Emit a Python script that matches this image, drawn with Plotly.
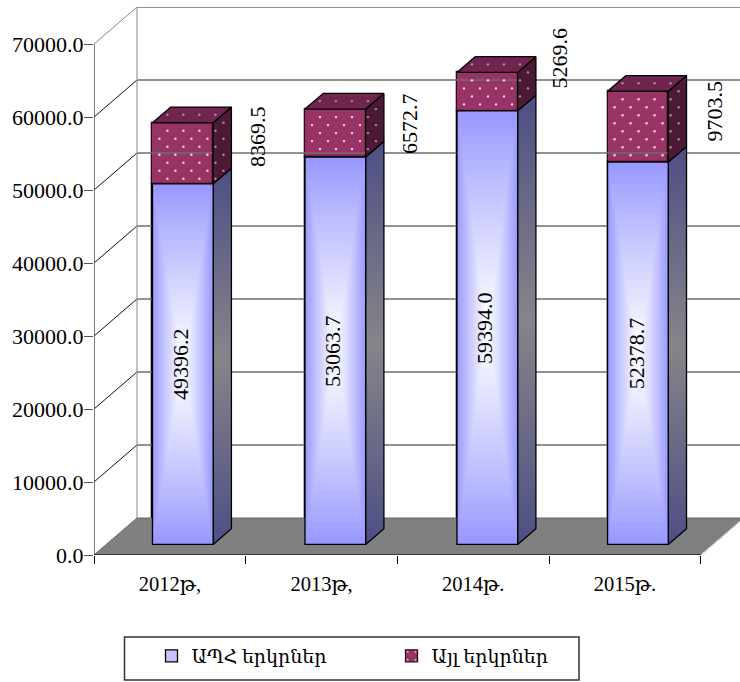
import plotly.graph_objects as go

categories = ["2012թ,", "2013թ,", "2014թ.", "2015թ."]
series_a_name = "ԱՊՀ երկրներ"
series_b_name = "Այլ երկրներ"
series_a = [49396.2, 53063.7, 59394.0, 52378.7]
series_b = [8369.5, 6572.7, 5269.6, 9703.5]
y_ticks = [0, 10000, 20000, 30000, 40000, 50000, 60000, 70000]

# ---- pixel layout of the pseudo-3D box
W, H = 740, 682
PX0, PY0 = 94, 555          # origin of the front plane
CAT_PX = 151.7              # px per category
VAL_PX = 73.0 / 10000       # px per value unit
TOP_PX = 7
DEPTH_X = 43 / CAT_PX       # floor depth, data units
DEPTH_Y = 37 / VAL_PX
FRONT_T, BACK_T = 0.285, 0.71
BAR_W = 0.4
BAR_NUDGE_PX = [0.7, 1.5, 1.8, 0.7]
N_CAT = len(categories)
FONT = "Liberation Serif, DejaVu Serif, serif"
FS = 22


def proj(x, v, t):
    return x + t * DEPTH_X, v + t * DEPTH_Y


def poly(points, **kw):
    xs, ys = zip(*[proj(*p) for p in points])
    return go.Scatter(x=list(xs) + [xs[0]], y=list(ys) + [ys[0]], mode="lines",
                      fill="toself", hoverinfo="skip", showlegend=False, **kw)


def seg(p, q, color, width):
    a, b = proj(*p), proj(*q)
    return go.Scatter(x=[a[0], b[0]], y=[a[1], b[1]], mode="lines", hoverinfo="skip",
                      showlegend=False, line=dict(color=color, width=width), cliponaxis=False)


def data_x(px):
    return (px - PX0) / CAT_PX


def data_y(py):
    return (PY0 - py) / VAL_PX


fig = go.Figure()

# floor
fig.add_trace(poly([(0, 0, 0), (N_CAT, 0, 0), (N_CAT, 0, 1), (0, 0, 1)],
                   fillcolor="#808080", line=dict(color="#666666", width=1)))

# walls and grid
top = y_ticks[-1]
for v in y_ticks[1:]:
    fig.add_trace(seg((0, v, 1), (N_CAT + 1, v, 1), "#6e6e6e", 1.3))
    fig.add_trace(seg((0, v, 0), (0, v, 1), "#111111" if v < top else "#888888", 1))
fig.add_trace(seg((0, 0, 1), (0, top, 1), "#999999", 1.2))

# axis lines
fig.add_trace(seg((0, 0, 0), (0, top, 0), "#555555", 1.5))
fig.add_trace(seg((0, 0, 0), (N_CAT, 0, 0), "#000000", 1.2))
fig.add_trace(seg((N_CAT, 0, 0), (N_CAT, 0, 1), "#e8e8e8", 1))

centers = [i + 0.5 + n / CAT_PX for i, n in enumerate(BAR_NUDGE_PX)]
front_x = [c + FRONT_T * DEPTH_X for c in centers]
base_a = [FRONT_T * DEPTH_Y] * N_CAT
base_b = [FRONT_T * DEPTH_Y + a for a in series_a]

PLUM = "#993366"
DOT = "#efd9e6"
PLUM_SIDE = "#4d1a36"
PLUM_TOP = "#6f2550"
DOT_DIM = "#ab8aa0"
OUT = 1.3

# front faces: real bars
fig.add_trace(go.Bar(x=front_x, y=series_a, base=base_a, width=BAR_W, name=series_a_name,
                     marker=dict(color="#c4c4ff", line=dict(color="#000000", width=OUT))))
fig.add_trace(go.Bar(x=front_x, y=series_b, base=base_b, width=BAR_W, name=series_b_name, showlegend=False,
                     marker=dict(color=PLUM, line=dict(color="#2a0a1c", width=OUT))))
# legend entry for the dotted series
fig.add_trace(go.Bar(x=[None], y=[None], name=series_b_name,
                     marker=dict(color=PLUM, line=dict(color="#2a0a1c", width=OUT),
                                 pattern=dict(shape=".", size=12, solidity=0.04,
                                              fgcolor=DOT, bgcolor=PLUM, fillmode="replace"))))

# side and top faces
for c, a, b in zip(centers, series_a, series_b):
    l, r = c - BAR_W / 2, c + BAR_W / 2
    total = a + b
    fig.add_trace(poly([(r, 0, FRONT_T), (r, 0, BACK_T), (r, a, BACK_T), (r, a, FRONT_T)],
                       line=dict(color="#000000", width=OUT), fillcolor="#55557f",
                       fillgradient=dict(type="vertical",
                                         colorscale=[[0, "#4e4e85"], [0.5, "#85858a"], [1, "#4e4e85"]])))
    fig.add_trace(poly([(r, a, FRONT_T), (r, a, BACK_T), (r, total, BACK_T), (r, total, FRONT_T)],
                       line=dict(color="#000000", width=OUT), fillcolor=PLUM_SIDE))
    fig.add_trace(poly([(l, total, FRONT_T), (r, total, FRONT_T), (r, total, BACK_T), (l, total, BACK_T)],
                       line=dict(color="#000000", width=OUT), fillcolor=PLUM_TOP))

# dotted texture: one screen-aligned lattice clipped to the plum silhouette of each bar
SX = (BACK_T - FRONT_T) * 43
SY = (BACK_T - FRONT_T) * 37
bright_x, bright_y, dim_x, dim_y = [], [], [], []
INSET = 1.2
for c, base, b in zip(centers, base_b, series_b):
    L = PX0 + (c - BAR_W / 2 + FRONT_T * DEPTH_X) * CAT_PX
    R = L + BAR_W * CAT_PX
    B = PY0 - base * VAL_PX
    T = B - b * VAL_PX
    for row in range(-4, 16):
        py = T + 8 + 8 * row
        offset = 15 if row % 2 == 0 else 7
        for col in range(-1, 7):
            px = L + offset + 16 * col
            if L + INSET < px < R - INSET and T + INSET < py < B - INSET:
                bright_x.append(data_x(px))
                bright_y.append(data_y(py))
            elif T - SY + INSET < py < T - INSET:
                fr = (T - py) / SY
                if L + fr * SX + INSET < px < R + fr * SX - INSET:
                    dim_x.append(data_x(px))
                    dim_y.append(data_y(py))
            elif R + INSET < px < R + SX - INSET:
                fr = (px - R) / SX
                if T - fr * SY + INSET < py < B - fr * SY - INSET:
                    dim_x.append(data_x(px))
                    dim_y.append(data_y(py))
fig.add_trace(go.Scatter(x=bright_x, y=bright_y, mode="markers", hoverinfo="skip", showlegend=False,
                         marker=dict(color=DOT, size=2.4, line=dict(width=0))))
fig.add_trace(go.Scatter(x=dim_x, y=dim_y, mode="markers", hoverinfo="skip", showlegend=False,
                         marker=dict(color=DOT_DIM, size=2.4, line=dict(width=0))))

# "from centre" gradient on the blue fronts
STEPS = 26
shapes = []
for x0, base, a in zip(front_x, base_a, series_a):
    mid = base + a / 2
    for i in range(STEPS):
        f = 1 - i / STEPS
        k = (i / (STEPS - 1)) ** 0.9
        col = "rgb(%d,%d,255)" % (153 + 102 * k, 153 + 102 * k)
        shapes.append(dict(type="rect", layer="above", xref="x", yref="y",
                           x0=x0 - f * BAR_W / 2, x1=x0 + f * BAR_W / 2,
                           y0=mid - f * a / 2, y1=mid + f * a / 2,
                           fillcolor=col, line=dict(width=0)))
    shapes.append(dict(type="rect", layer="above", xref="x", yref="y",
                       x0=x0 - BAR_W / 2, x1=x0 + BAR_W / 2, y0=base, y1=base + a,
                       fillcolor="rgba(0,0,0,0)", line=dict(color="#000000", width=OUT)))

PLOT_W, PLOT_H = W - PX0, PY0 - TOP_PX


def paper_x(px):
    return (px - PX0) / PLOT_W


def paper_y(py):
    return (PY0 - py) / PLOT_H


# legend frame
LEG = (124.5, 579, 637, 680)
shapes.append(dict(type="rect", layer="above", xref="paper", yref="paper",
                   x0=paper_x(LEG[0]), x1=paper_x(LEG[1]), y0=paper_y(LEG[3]), y1=paper_y(LEG[2]),
                   fillcolor="#ffffff", line=dict(color="#333333", width=1.5)))

# value labels
label_a_dx = [-3, -3, -3, -2]
label_b_dx = [74, 73.5, 72, 77]
label_b_dy = [17, 10, 33.5, 16]
ann = []
for i in range(N_CAT):
    ann.append(dict(x=front_x[i], y=base_a[i] + series_a[i] / 2, text=f"{series_a[i]:.1f}", textangle=-90,
                    showarrow=False, xshift=label_a_dx[i], font=dict(family=FONT, size=FS, color="#000000")))
    ann.append(dict(x=front_x[i], y=base_b[i] + series_b[i] / 2, text=f"{series_b[i]:.1f}", textangle=-90,
                    showarrow=False, xshift=label_b_dx[i], yshift=label_b_dy[i],
                    font=dict(family=FONT, size=FS, color="#000000")))

xrange_max = (W - PX0) / CAT_PX
yrange_max = (PY0 - TOP_PX) / VAL_PX

fig.update_layout(
    width=W, height=H, paper_bgcolor="#ffffff", plot_bgcolor="rgba(0,0,0,0)",
    margin=dict(l=PX0, r=0, t=TOP_PX, b=H - PY0, pad=0, autoexpand=False),
    barmode="overlay", bargap=0, font=dict(family=FONT, size=FS, color="#000000"),
    shapes=shapes, annotations=ann, hovermode=False,
    xaxis=dict(range=[0, xrange_max], tickmode="array", tickvals=[i + 0.5 for i in range(N_CAT)],
               ticktext=categories, ticks="", ticklen=0, showgrid=False, zeroline=False, showline=False,
               tickfont=dict(family=FONT, size=20.5), tickangle=0, ticklabelstandoff=14,
               minor=dict(tickmode="array", tickvals=list(range(N_CAT + 1)), ticks="outside",
                          ticklen=8, tickcolor="#000000", tickwidth=1.2, showgrid=False)),
    yaxis=dict(range=[0, yrange_max], tickmode="array", tickvals=y_ticks,
               ticktext=[f"{v:.1f}" for v in y_ticks], ticks="outside", ticklen=9,
               tickcolor="#555555", tickwidth=1.3, showgrid=False, zeroline=False, showline=False,
               tickfont=dict(family=FONT, size=FS), ticklabelstandoff=-4),
    showlegend=True,
    legend=dict(orientation="h", x=paper_x(LEG[0] + 27), xanchor="left", y=paper_y(LEG[2] + 19), yanchor="middle",
                bgcolor="rgba(0,0,0,0)", borderwidth=0, font=dict(family=FONT, size=19),
                entrywidth=195, entrywidthmode="pixels", traceorder="normal"),
)

fig.write_html("out.html", config=dict(displayModeBar=False),
               post_script="document.body.style.margin='0';")
